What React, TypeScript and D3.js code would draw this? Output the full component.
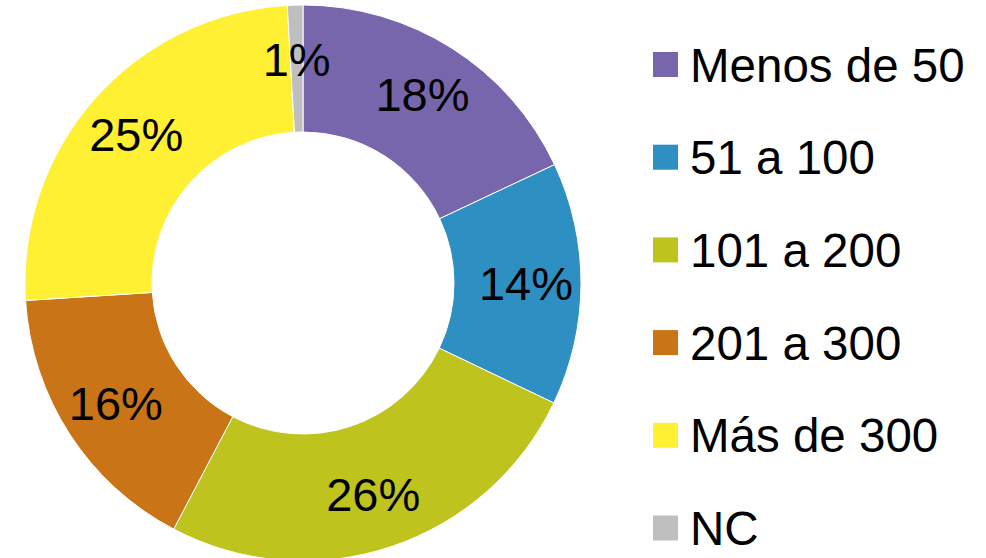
import React, { useEffect, useRef } from 'react'
import * as d3 from 'd3'

const categories = ['Menos de 50', '51 a 100', '101 a 200', '201 a 300', 'Más de 300', 'NC']
const shares = [18.0, 14.1, 25.6, 16.3, 25.1, 0.9]
const labels = ['18%', '14%', '26%', '16%', '25%', '1%']
const colors = ['#7866AD', '#2E8FC3', '#BEC31E', '#C87417', '#FFF033', '#BFBFBF']

const App = () => {
  const ref = useRef<SVGSVGElement | null>(null)

  useEffect(() => {
    const width = 986
    const height = 558
    const cx = 303
    const cy = 283
    const outer = 278
    const inner = 151
    const font = 'Liberation Sans, Arial, sans-serif'

    const svg = d3.select(ref.current)
    svg.selectAll('*').remove()
    svg.attr('width', width).attr('height', height)

    const data = categories.map((c, i) => ({ name: c, value: shares[i], label: labels[i], color: colors[i] }))

    const pie = d3
      .pie<any>()
      .value(d => d.value)
      .sort(null)

    const arc = d3.arc<any>().innerRadius(inner).outerRadius(outer)
    // labels sit a bit further out than the ring centre
    const labelArc = d3.arc<any>().innerRadius(223).outerRadius(223)

    const g = svg.append('g').attr('transform', `translate(${cx},${cy})`)

    g.selectAll('path') // slices
      .data(pie(data))
      .enter()
      .append('path')
      .attr('d', arc)
      .attr('fill', d => d.data.color)
      .attr('stroke', '#ffffff')
      .attr('stroke-width', 1)

    g.selectAll('text') // percent labels
      .data(pie(data))
      .enter()
      .append('text')
      .attr('x', d => labelArc.centroid(d)[0])
      .attr('y', d => labelArc.centroid(d)[1] + 16)
      .attr('text-anchor', 'middle')
      .style('font-family', font)
      .style('font-size', '47px')
      .attr('fill', '#000')
      .text(d => d.data.label)

    const rowY = d3
      .scaleLinear()
      .domain([0, categories.length - 1])
      .range([64.5, 528])

    const legend = svg
      .append('g')
      .selectAll('g')
      .data(data)
      .enter()
      .append('g')
      .attr('transform', (d, i) => `translate(653,${rowY(i)})`)

    legend
      .append('rect')
      .attr('x', 0)
      .attr('y', -12.5)
      .attr('width', 25)
      .attr('height', 25)
      .attr('fill', d => d.color)

    legend
      .append('text')
      .attr('x', 37)
      .attr('y', 17)
      .style('font-family', font)
      .style('font-size', '47.5px')
      .attr('fill', '#000')
      .text(d => d.name)
  }, [])

  return <svg ref={ref} style={{ position: 'absolute', left: 0, top: 0, background: '#fff' }}></svg>
}

export default App
